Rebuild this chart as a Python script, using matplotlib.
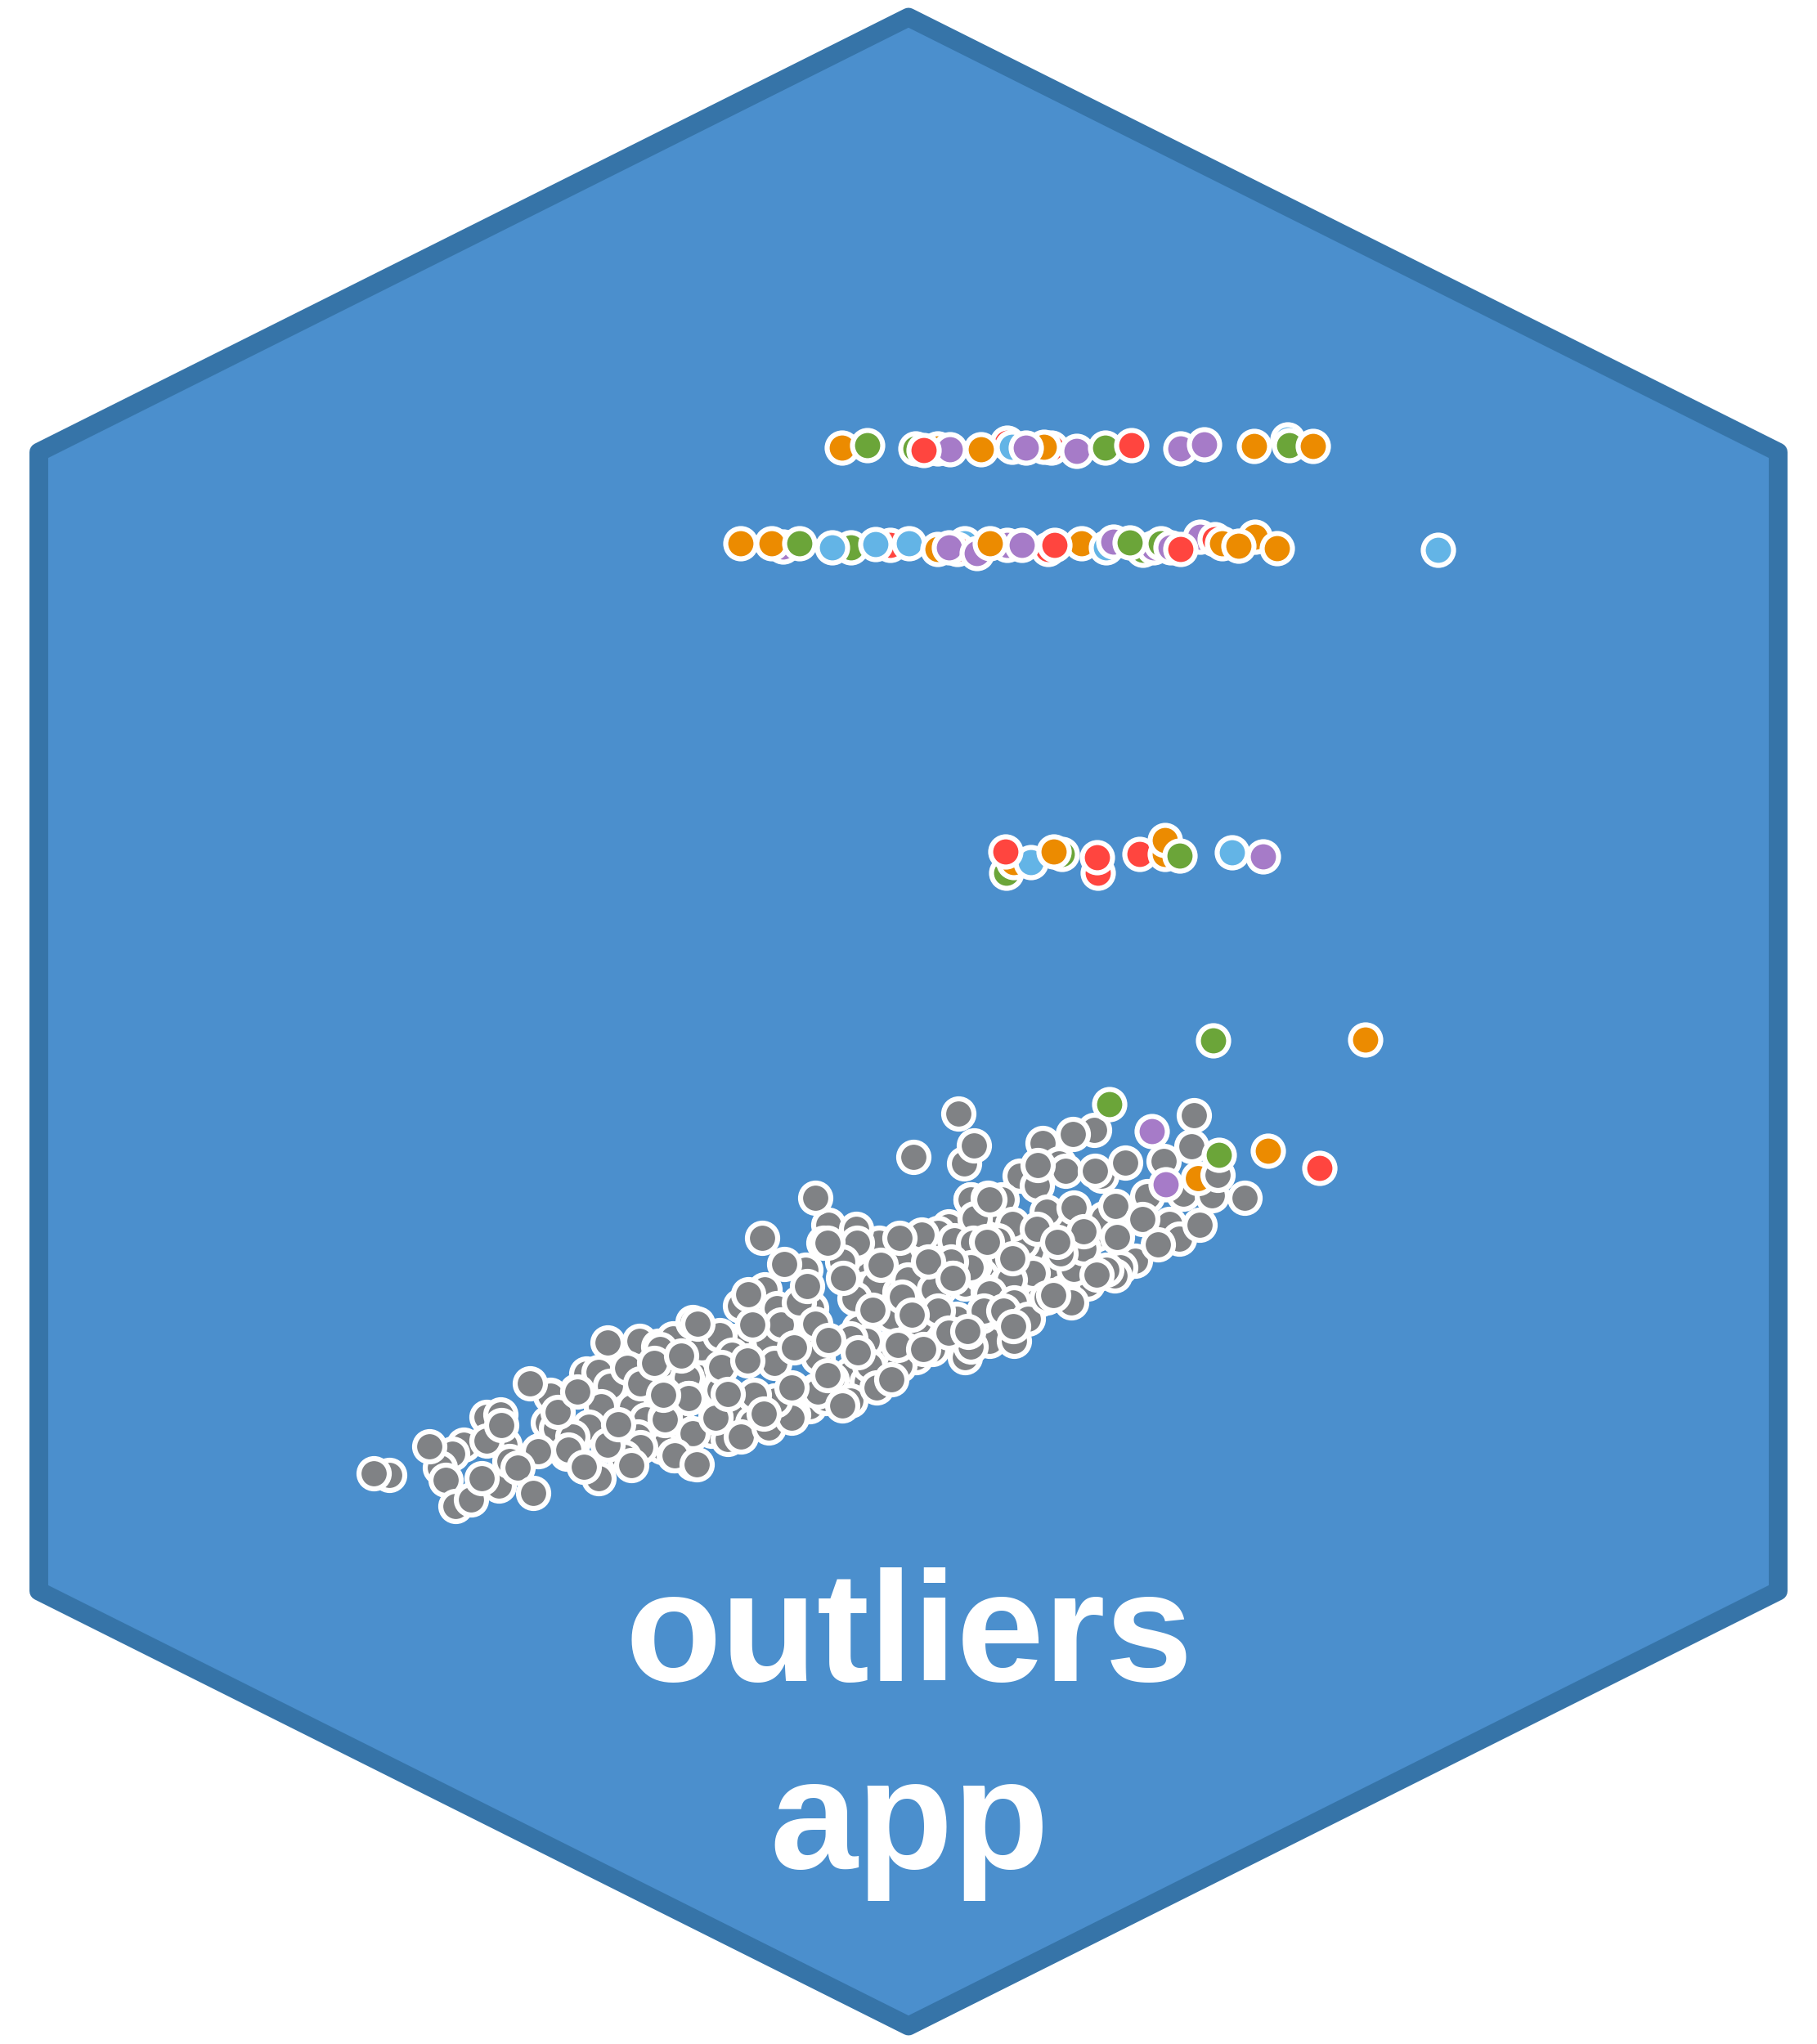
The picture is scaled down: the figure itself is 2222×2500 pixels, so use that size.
import matplotlib
matplotlib.use("Agg")
import matplotlib.pyplot as plt
from matplotlib.patches import Polygon

# Hexagon outline (image pixels)
hex_x = [1111, 2174.5, 2174.5, 1111, 47.5, 47.5]
hex_y = [21, 553, 1946, 2478, 1946, 553]

# Grey points hidden in the thick of the band, drawn first
under_x = [992, 1000, 1050, 1080, 1100, 1120, 1150, 1090, 1060, 1040, 1000, 960, 940, 900, 870, 850, 880, 900, 830, 790,
           760, 740, 800, 870, 890, 920, 960, 990, 1010, 1060, 1100, 1140, 1180, 1210, 1240, 1270, 1290, 1260, 1210,
           1180, 1150, 1130, 1090, 1070, 1050, 1100, 1100, 1200, 1300, 1340, 1350, 1160, 1200, 1140, 1075, 1040, 1220,
           1250, 1330, 1300, 1270, 1230, 830, 770, 810, 673, 681, 705, 680, 659, 701, 720, 735, 744, 779, 693, 715,
           767, 796, 773, 790, 805, 857, 832, 841]
under_y = [1600, 1640, 1625, 1660, 1630, 1660, 1640, 1610, 1640, 1680, 1660, 1620, 1640, 1640, 1690, 1700, 1700, 1730, 1720, 1720,
           1710, 1740, 1750, 1750, 1760, 1740, 1720, 1720, 1710, 1690, 1670, 1650, 1660, 1640, 1640, 1590, 1560, 1530, 1545,
           1570, 1575, 1590, 1580, 1570, 1540, 1540, 1580, 1610, 1500, 1510, 1490, 1500, 1560, 1520, 1520, 1530, 1480,
           1520, 1570, 1580, 1590, 1570, 1760, 1750, 1770, 1706, 1727, 1701, 1750, 1774, 1763, 1746, 1719, 1759, 1759, 1778, 1794,
           1667, 1702, 1721, 1736, 1646, 1646, 1658, 1683]

# Grey points, back to front
grey_x = [476, 567, 553, 538, 545, 557, 610, 595, 612, 617, 623, 595, 673, 670, 680, 717, 732, 746, 735, 720,
          700, 695, 732, 763, 780, 783, 763, 772, 743, 658, 782, 805, 823, 767, 783, 810, 813, 843, 847, 847,
          824, 847, 847,
          807, 800, 840, 812, 842, 813, 858, 880, 895, 882, 875, 922, 905, 935, 915, 950, 955, 947, 948, 970,
          977, 997, 985, 1013, 1007, 1047, 1048, 1030, 1045, 998, 1017, 1040, 1063, 1040, 1072, 1110, 1103,
          1147, 1127, 1142, 1140, 1123, 1098, 1165, 1192, 1170, 1187, 1192, 1187, 1208, 1217, 1167,
          825, 813, 842, 875, 906, 940, 968, 948, 922, 1000, 934, 852,
          1179, 1338, 1275, 1295, 1303, 1247, 1268, 1187, 1225, 1192, 1238, 1280, 1313, 1268, 1347, 1403, 1447, 1482,
          1430, 1442, 1467, 1388, 1370, 1363, 1353, 1313, 1325, 1297, 1310, 1190, 1220, 1187, 1263, 1235, 1210,
          1240, 1203, 1227, 1163, 1147, 1257, 1280, 1160,
          457, 525, 576, 589, 633, 652, 648, 613, 682, 706, 714, 756, 743, 811, 833,
          997, 932, 959, 1012, 987, 1031, 1077, 1100, 1135, 1165, 1067, 1115, 920, 853, 971, 1013, 1049, 914,
          1012, 1090, 968, 890, 1030, 1129, 1184, 1206, 1208,
          1117, 1172, 1191, 1312, 1269, 1339, 1376, 1423, 1460, 1457, 1522, 1210, 1364, 1397, 1325, 1366, 1416, 1293,
          1207, 1238, 1341, 1165, 1288, 1239, 1183]
grey_y = [1804, 1767, 1778, 1795, 1810, 1842, 1817, 1733, 1730, 1767, 1787, 1762, 1707, 1740, 1747, 1680, 1678, 1695, 1720, 1745,
          1757, 1773, 1808, 1757, 1757, 1770, 1782, 1792, 1767, 1775, 1640, 1647, 1637, 1673, 1692, 1668, 1737, 1710, 1680, 1617,
          1780, 1753, 1790,
          1650, 1667, 1685, 1705, 1710, 1733, 1648, 1633, 1657, 1672, 1733, 1707, 1597, 1577, 1583, 1600, 1620, 1667, 1713, 1730,
          1593, 1619, 1553, 1498, 1520, 1503, 1520, 1543, 1588, 1700, 1687, 1637, 1670, 1713, 1697, 1565, 1586,
          1508, 1510, 1577, 1617, 1617, 1645, 1540, 1547, 1613, 1647, 1490, 1467, 1580, 1603, 1517,
          1780, 1736, 1710, 1734, 1757, 1746, 1734, 1713, 1706, 1702, 1729, 1791,
          1423, 1382, 1398, 1423, 1432, 1438, 1450, 1467, 1467, 1490, 1497, 1482, 1477, 1503, 1438, 1463, 1460, 1462,
          1497, 1515, 1498, 1542, 1550, 1560, 1553, 1552, 1527, 1533, 1593, 1520, 1517, 1550, 1557, 1565, 1582,
          1593, 1603, 1603, 1543, 1603, 1613, 1587, 1630,
          1802, 1769, 1834, 1808, 1795, 1826, 1692, 1743, 1727, 1702, 1794, 1742, 1642, 1706, 1658,
          1465, 1514, 1546, 1520, 1573, 1563, 1547, 1514, 1543, 1563, 1602, 1608, 1620, 1619, 1648, 1639, 1654, 1664,
          1682, 1687, 1697, 1705, 1719, 1650, 1629, 1518, 1465,
          1415, 1362, 1401, 1387, 1425, 1432, 1422, 1420, 1364, 1402, 1465, 1467, 1475, 1491, 1506, 1513, 1522, 1519,
          1519, 1539, 1559, 1563, 1584, 1622, 1628]

# This orange point sits under one grey point, so both follow the grey list
low_orange_x = [1465]
low_orange_y = [1441]
late_grey_x = [1489]
late_grey_y = [1437]

# Coloured outliers, back to front
outlier_x = [1120, 1232, 1238, 1147, 1162, 1200, 1286, 1277, 1255, 1317, 1352, 1384, 1444, 1473, 1534, 1575, 1577,
             1606, 1030, 1061, 1130,
             958, 906, 944, 978, 1041, 1018, 1089, 1071, 1112, 1180, 1171, 1147, 1161, 1195, 1232, 1211, 1282, 1250,
             1323, 1290, 1353, 1362, 1398, 1411, 1420, 1432, 1382, 1468, 1486, 1495, 1535, 1515, 1444, 1562, 1759,
             1231, 1343, 1240, 1261, 1299, 1289, 1230, 1342, 1394, 1425, 1425, 1443, 1507, 1545,
             1484, 1670, 1357, 1409, 1426, 1491, 1551, 1614]
outlier_y = [549, 542, 547, 549, 550, 550, 548, 547, 548, 552, 548, 545, 549, 544, 546, 538, 545,
             546, 548, 545, 551,
             669, 665, 665, 665, 670, 670, 667, 666, 665, 665, 672, 672, 670, 677, 667, 665, 672, 667,
             665, 667, 670, 663, 673, 670, 665, 670, 664, 657, 660, 665, 657, 668, 672, 671, 673,
             1068, 1068, 1055, 1055, 1045, 1042, 1042, 1049, 1045, 1045, 1028, 1047, 1043, 1048,
             1273, 1272, 1351, 1384, 1449, 1413, 1408, 1429]
outlier_group = ["green", "red", "blue", "orange", "purple", "orange", "red", "orange", "purple", "purple", "green", "red",
                 "purple", "purple", "orange", "blue", "green", "orange", "orange", "green", "red",
                 "purple", "orange", "orange", "green", "green", "blue", "red", "blue", "blue", "blue", "red", "orange",
                 "purple", "purple", "purple", "orange", "red", "purple", "orange", "red", "blue", "purple", "green", "purple",
                 "green", "purple", "green", "purple", "red", "orange", "orange", "orange", "red", "orange", "blue",
                 "green", "red", "orange", "blue", "green", "orange", "red", "red", "red", "orange", "orange", "green",
                 "blue", "purple",
                 "green", "orange", "green", "purple", "purple", "green", "orange", "red"]

group_colors = {"orange": "#EC8B00", "green": "#6BA539", "purple": "#A67BC8", "red": "#FF453F", "blue": "#63B4E6"}
grey_color = "#808285"

fig = plt.figure(figsize=(22.22, 25), dpi=100)
ax = fig.add_axes([0, 0, 1, 1])
ax.set_xlim(0, 2222)
ax.set_ylim(2500, 0)
ax.axis("off")

ax.add_patch(Polygon(list(zip(hex_x, hex_y)), closed=True, facecolor="#4B8FCD", edgecolor="#3674A8",
                     linewidth=16.5, joinstyle="round", zorder=1))

# 37 px across at the middle of the white ring
size = (37 * 0.72) ** 2
ring = 6.2 * 0.72
ax.scatter(under_x, under_y, s=size, c=grey_color, edgecolors="white", linewidths=ring, zorder=2)
ax.scatter(grey_x, grey_y, s=size, c=grey_color, edgecolors="white", linewidths=ring, zorder=2)
ax.scatter(low_orange_x, low_orange_y, s=size, c=group_colors["orange"], edgecolors="white", linewidths=ring, zorder=3)
ax.scatter(late_grey_x, late_grey_y, s=size, c=grey_color, edgecolors="white", linewidths=ring, zorder=4)
ax.scatter(outlier_x, outlier_y, s=size, c=[group_colors[g] for g in outlier_group], edgecolors="white",
           linewidths=ring, zorder=5)

ax.text(1112, 2056, "outliers", color="white", fontsize=138.5, fontweight="bold", family="Liberation Sans",
        ha="center", va="baseline", zorder=6)
ax.text(1112, 2285, "app", color="white", fontsize=138.5, fontweight="bold", family="Liberation Sans",
        ha="center", va="baseline", zorder=6)

fig.savefig("out.png", dpi=100, facecolor="white")
